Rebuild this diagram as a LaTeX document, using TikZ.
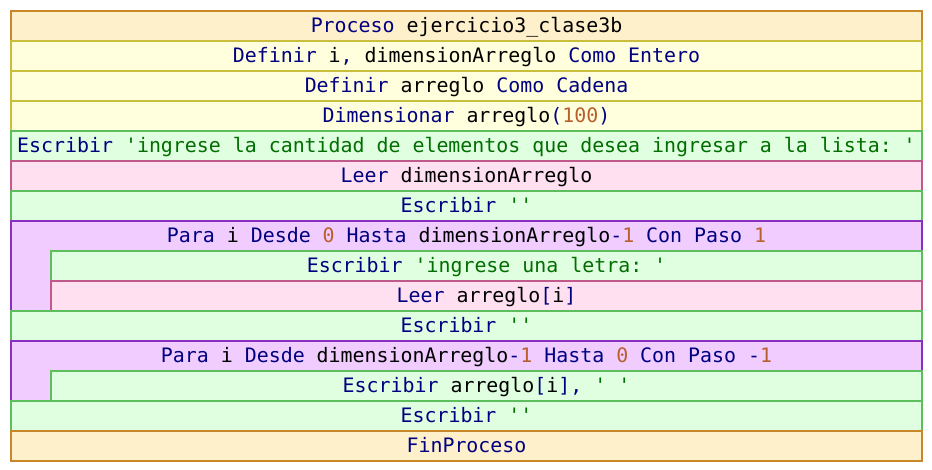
\documentclass[tikz,border=0pt]{standalone}
\usepackage{fontspec}
\setmonofont{DejaVu Sans Mono}[WordSpace={1,0,0}]
\definecolor{kw}{RGB}{0,0,128}
\definecolor{str}{RGB}{0,110,0}
\definecolor{num}{RGB}{185,95,45}
\definecolor{idc}{RGB}{0,0,0}
\definecolor{procF}{RGB}{255,240,204}
\definecolor{procD}{RGB}{200,135,40}
\definecolor{defF}{RGB}{255,255,221}
\definecolor{defD}{RGB}{200,190,60}
\definecolor{escF}{RGB}{224,255,224}
\definecolor{escD}{RGB}{92,190,92}
\definecolor{leeF}{RGB}{255,224,240}
\definecolor{leeD}{RGB}{192,90,138}
\definecolor{paraF}{RGB}{240,204,255}
\definecolor{paraD}{RGB}{138,46,192}
\newcommand{\K}[1]{\textcolor{kw}{#1}}
\newcommand{\Sx}[1]{\textcolor{str}{#1}}
\newcommand{\N}[1]{\textcolor{num}{#1}}
\newcommand{\I}[1]{\textcolor{idc}{#1}}
\begin{document}
\begin{tikzpicture}[x=1pt,y=-1pt,
  row/.style={draw, line width=2pt, anchor=north west, inner sep=0pt,
    minimum height=30pt, text height=21.5pt, text depth=8.5pt,
    font=\ttfamily\fontsize{19.9pt}{22pt}\selectfont, text=kw},
  full/.style={row, minimum width=911pt},
  inner/.style={row, minimum width=871pt},
  proc/.style={fill=procF, draw=procD},
  defn/.style={fill=defF, draw=defD},
  esc/.style={fill=escF, draw=escD},
  lee/.style={fill=leeF, draw=leeD},
  para/.style={fill=paraF, draw=paraD}]
\useasboundingbox (0,0) rectangle (932,470);
\node[full,proc] (r1) at (10,10) {\K{Proceso} \I{ejercicio3\_clase3b}};
\node[full,defn] (r2) at (10,40) {\K{Definir} \I{i}\K{,} \I{dimensionArreglo} \K{Como Entero}};
\node[full,defn] (r3) at (10,70) {\K{Definir} \I{arreglo} \K{Como Cadena}};
\node[full,defn] (r4) at (10,100) {\K{Dimensionar} \I{arreglo}\K{(}\N{100}\K{)}};
\node[full,esc] (r5) at (10,130) {\K{Escribir} \Sx{'ingrese la cantidad de elementos que desea ingresar a la lista: '}};
\node[full,lee] (r6) at (10,160) {\K{Leer} \I{dimensionArreglo}};
\node[full,esc] (r7) at (10,190) {\K{Escribir} \Sx{''}};
% first loop
\node[para, draw, line width=2pt, anchor=north west, minimum width=911pt, minimum height=90pt, inner sep=0pt] (p1) at (10,220) {};
\node[full, draw=none, fill=none] (p1t) at (10,220) {\K{Para} \I{i} \K{Desde} \N{0} \K{Hasta} \I{dimensionArreglo}\K{-}\N{1} \K{Con Paso} \N{1}};
\node[inner,esc] (r9) at (50,250) {\K{Escribir} \Sx{'ingrese una letra: '}};
\node[inner,lee] (r10) at (50,280) {\K{Leer} \I{arreglo}\K{[}\I{i}\K{]}};
\node[full,esc] (r11) at (10,310) {\K{Escribir} \Sx{''}};
% second loop
\node[para, draw, line width=2pt, anchor=north west, minimum width=911pt, minimum height=60pt, inner sep=0pt] (p2) at (10,340) {};
\node[full, draw=none, fill=none] (p2t) at (10,340) {\K{Para} \I{i} \K{Desde} \I{dimensionArreglo}\K{-}\N{1} \K{Hasta} \N{0} \K{Con Paso} \K{-}\N{1}};
\node[inner,esc] (r13) at (50,370) {\K{Escribir} \I{arreglo}\K{[}\I{i}\K{],} \Sx{' '}};
\node[full,esc] (r14) at (10,400) {\K{Escribir} \Sx{''}};
\node[full,proc] (r15) at (10,430) {\K{FinProceso}};
\end{tikzpicture}
\end{document}
